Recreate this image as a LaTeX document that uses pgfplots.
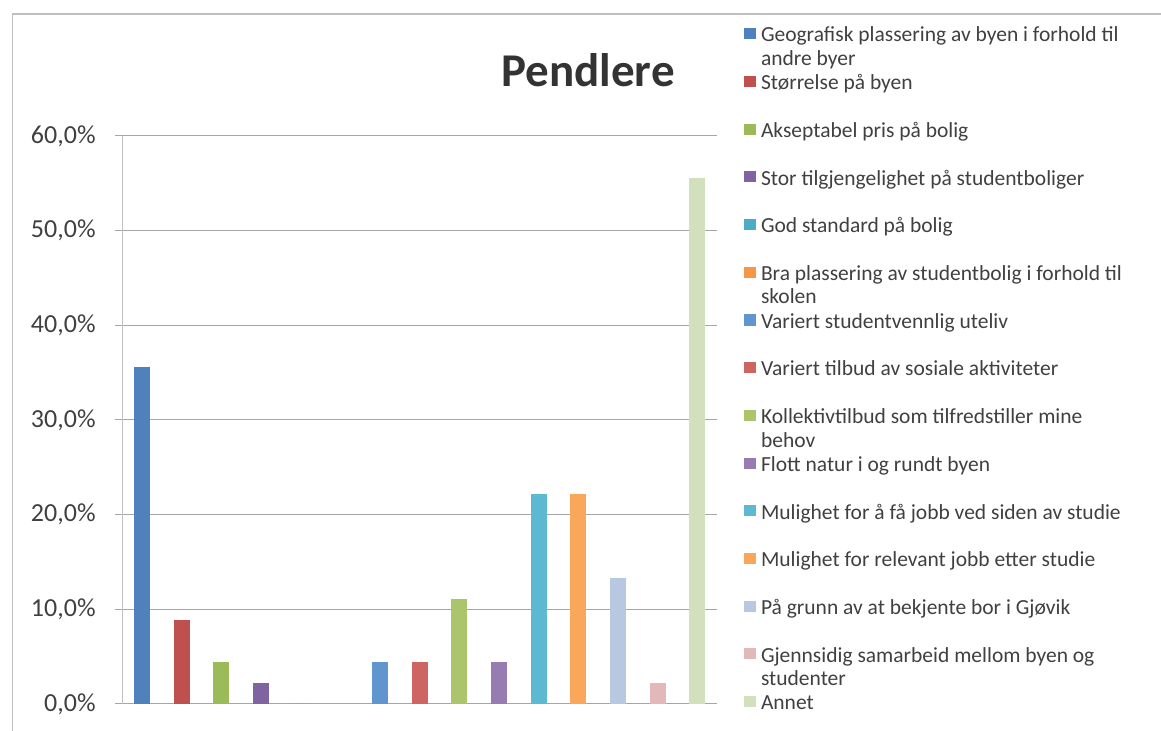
\documentclass[border=0pt]{standalone}
\usepackage{fontspec}
\setmainfont{Carlito}
\usepackage{pgfplots}
\pgfplotsset{compat=1.18}
\definecolor{c1}{HTML}{4F81BD}
\definecolor{c2}{HTML}{C0504D}
\definecolor{c3}{HTML}{9BBB59}
\definecolor{c4}{HTML}{8064A2}
\definecolor{c5}{HTML}{4BACC6}
\definecolor{c6}{HTML}{F79646}
\definecolor{c7}{HTML}{6195CD}
\definecolor{c8}{HTML}{CE6562}
\definecolor{c9}{HTML}{ABC56C}
\definecolor{c10}{HTML}{977CB3}
\definecolor{c11}{HTML}{5DB8D1}
\definecolor{c12}{HTML}{F9A75A}
\definecolor{c13}{HTML}{B9C8E1}
\definecolor{c14}{HTML}{E2B9B8}
\definecolor{c15}{HTML}{D2E0BC}
\definecolor{txt}{HTML}{404040}
\definecolor{titc}{HTML}{333333}
\definecolor{gridc}{HTML}{A6A6A6}
\definecolor{axc}{HTML}{BFBFBF}
\newcommand{\legtxt}[1]{\raisebox{0pt}[11.9pt][11.95pt]{\parbox[t]{220pt}{\fontsize{10.75}{11.75}\selectfont\strut #1}}}
\pgfplotsset{mybar/.style={ybar, bar width=8pt, bar shift=0pt, draw=none, fill=#1,
  legend image code/.code={\fill[fill=#1] (0pt,1.35pt) rectangle (6pt,6.9pt);}}}
\begin{document}
\begin{tikzpicture}
\useasboundingbox (0pt,0pt) rectangle (580.5pt,365.5pt);
\draw[axc, line width=0.6pt] (6.35pt,-2pt) -- (6.35pt,358.5pt) -- (585pt,358.5pt);
\begin{axis}[
  at={(61pt,13.5pt)}, anchor=south west,
  scale only axis, width=297.5pt, height=284pt,
  xmin=-0.5, xmax=14.5, ymin=0, ymax=60,
  xtick=\empty, ytick={0,10,...,60},
  scaled y ticks=false,
  axis lines*=left,
  axis line style={-, draw=axc, line width=0.5pt},
  x axis line style={draw=none},
  ymajorgrids, grid style={draw=gridc, line width=0.5pt},
  tick align=outside, major tick length=3.5pt,
  ytick style={draw=gridc, line width=0.5pt},
  /pgf/number format/assume math mode=true,
  yticklabel={\pgfmathprintnumber[fixed,fixed zerofill,precision=1,use comma]{\tick}\%},
  yticklabel style={font=\fontsize{13}{15}\selectfont, text=txt, inner sep=0pt, xshift=-9.5pt},
  title={Pendlere},
  title style={at={(0.7832,1.0863)}, anchor=base, yshift=-6pt, font=\fontsize{23.5}{28}\selectfont\bfseries, text=titc},
  legend style={at={(1.04538,1.2074)}, anchor=north west, draw=none, fill=none,
    inner sep=0pt, outer sep=0pt, row sep=0pt, column sep=2.5pt,
    nodes={inner sep=0pt, text height=11.9pt, text depth=11.95pt, text=txt}},
  legend cell align=left,
]
\addplot[mybar=c1] coordinates {(0,35.56)};
\addlegendentry{\legtxt{Geografisk plassering av byen i forhold til\\andre byer}}
\addplot[mybar=c2] coordinates {(1,8.89)};
\addlegendentry{\legtxt{Størrelse på byen}}
\addplot[mybar=c3] coordinates {(2,4.44)};
\addlegendentry{\legtxt{Akseptabel pris på bolig}}
\addplot[mybar=c4] coordinates {(3,2.22)};
\addlegendentry{\legtxt{Stor tilgjengelighet på studentboliger}}
\addplot[mybar=c5] coordinates {(4,0)};
\addlegendentry{\legtxt{God standard på bolig}}
\addplot[mybar=c6] coordinates {(5,0)};
\addlegendentry{\legtxt{Bra plassering av studentbolig i forhold til\\skolen}}
\addplot[mybar=c7] coordinates {(6,4.44)};
\addlegendentry{\legtxt{Variert studentvennlig uteliv}}
\addplot[mybar=c8] coordinates {(7,4.44)};
\addlegendentry{\legtxt{Variert tilbud av sosiale aktiviteter}}
\addplot[mybar=c9] coordinates {(8,11.11)};
\addlegendentry{\legtxt{Kollektivtilbud som tilfredstiller mine\\behov}}
\addplot[mybar=c10] coordinates {(9,4.44)};
\addlegendentry{\legtxt{Flott natur i og rundt byen}}
\addplot[mybar=c11] coordinates {(10,22.22)};
\addlegendentry{\legtxt{Mulighet for å få jobb ved siden av studie}}
\addplot[mybar=c12] coordinates {(11,22.22)};
\addlegendentry{\legtxt{Mulighet for relevant jobb etter studie}}
\addplot[mybar=c13] coordinates {(12,13.33)};
\addlegendentry{\legtxt{På grunn av at bekjente bor i Gjøvik}}
\addplot[mybar=c14] coordinates {(13,2.22)};
\addlegendentry{\legtxt{Gjennsidig samarbeid mellom byen og\\studenter}}
\addplot[mybar=c15] coordinates {(14,55.56)};
\addlegendentry{\legtxt{Annet}}
\end{axis}
\end{tikzpicture}
\end{document}
